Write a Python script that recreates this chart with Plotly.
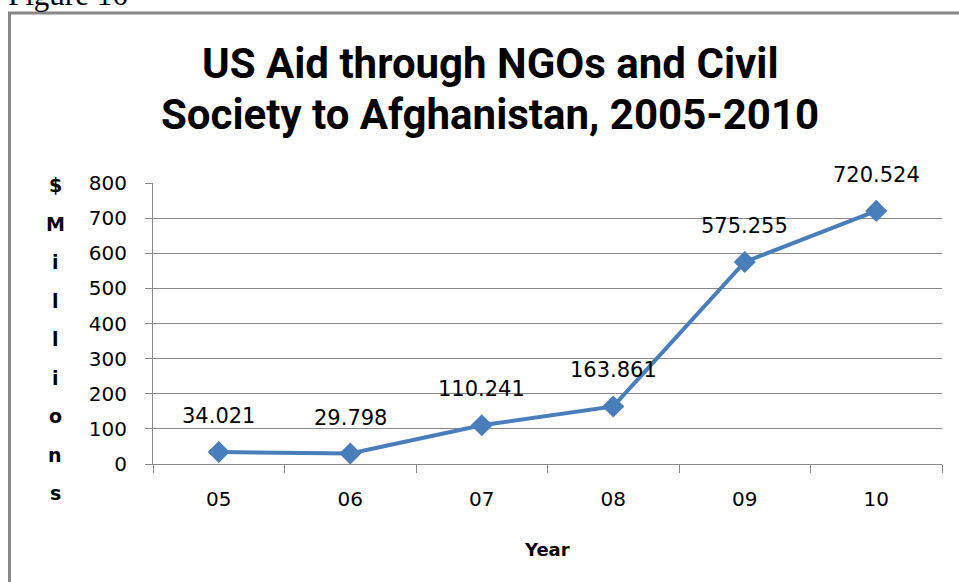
import plotly.graph_objects as go

years = ["05", "06", "07", "08", "09", "10"]
aid_millions = [34.021, 29.798, 110.241, 163.861, 575.255, 720.524]
label_texts = ["34.021", "29.798", "110.241", "163.861", "575.255", "720.524"]
y_ticks = [0, 100, 200, 300, 400, 500, 600, 700, 800]
title_lines = ["US Aid through NGOs and Civil", "Society to Afghanistan, 2005-2010"]
y_title_letters = ["$", "M", "i", "l", "l", "i", "o", "n", "s"]
x_title = "Year"
fig_caption = "Figure 16"

W, H = 959, 582
L, R, T, B = 153, 942, 183, 464

def px_x(p):
    return (p - L) / (R - L)

def px_y(p):
    return (B - p) / (B - T)

BLUE = "#4A7EBB"
GRID = "#898989"
TICKFONT = dict(family="DejaVu Sans", size=20, color="#000000")

fig = go.Figure()
fig.add_trace(go.Scatter(
    x=years, y=aid_millions, mode="lines+markers",
    line=dict(color=BLUE, width=4),
    marker=dict(symbol="diamond", size=17, color=BLUE),
    hoverinfo="x+y", showlegend=False,
))

annotations = []
for idx, (v, t) in enumerate(zip(aid_millions, label_texts)):
    annotations.append(dict(x=idx, y=v, xref="x", yref="y", text=t, showarrow=False,
                            yshift=36, font=dict(family="DejaVu Sans", size=21, color="#000000")))

# title, one annotation per line
for line, cy in zip(title_lines, [64, 115]):
    annotations.append(dict(x=px_x(490), y=px_y(cy), xref="paper", yref="paper",
                            xanchor="center", yanchor="middle", text="<b>" + line + "</b>",
                            showarrow=False,
                            font=dict(family="Roboto", size=42, color="#000000")))

# stacked y-axis title letters
for i, ch in enumerate(y_title_letters):
    annotations.append(dict(x=px_x(55), y=px_y(185 + i * 38.5), xref="paper", yref="paper",
                            xanchor="center", yanchor="middle", text="<b>" + ch + "</b>",
                            showarrow=False,
                            font=dict(family="DejaVu Sans", size=19, color="#000000")))

# x title
annotations.append(dict(x=px_x(547), y=px_y(549), xref="paper", yref="paper",
                        xanchor="center", yanchor="middle", text="<b>" + x_title + "</b>",
                        showarrow=False, font=dict(family="DejaVu Sans", size=18, color="#000000")))

# partially cropped caption (cut off at the top, as in the source)
annotations.append(dict(x=px_x(6), y=px_y(14), xref="paper", yref="paper",
                        xanchor="left", yanchor="bottom", text=fig_caption, showarrow=False,
                        font=dict(family="Liberation Serif", size=31, color="#000000")))

shapes = [
    dict(type="line", xref="paper", yref="paper", x0=px_x(9.5), y0=px_y(600), x1=px_x(9.5), y1=px_y(13),
         line=dict(color="#878787", width=3)),
    dict(type="line", xref="paper", yref="paper", x0=px_x(8), y0=px_y(13), x1=px_x(970), y1=px_y(13),
         line=dict(color="#878787", width=3)),
]

fig.update_layout(
    width=W, height=H,
    margin=dict(l=L, r=W - R, t=T, b=H - B),
    paper_bgcolor="white", plot_bgcolor="white",
    annotations=annotations, shapes=shapes,
    xaxis=dict(type="category", categoryorder="array", categoryarray=years,
               range=[-0.5, len(years) - 0.5],
               tickson="boundaries", ticks="outside", ticklen=8, tickcolor=GRID,
               showline=True, linecolor=GRID, linewidth=1, showgrid=False,
               tickfont=TICKFONT, ticklabelstandoff=17, zeroline=False),
    yaxis=dict(range=[0, 800], tickvals=y_ticks, ticks="outside", ticklen=7, tickcolor=GRID,
               showline=True, linecolor=GRID, linewidth=1, showgrid=True, gridcolor=GRID,
               gridwidth=1, tickfont=TICKFONT, ticklabelstandoff=14, zeroline=False),
)

fig.write_html("out.html", config={"displayModeBar": False},
               post_script="document.body.style.margin='0';document.body.style.overflow='hidden';")
